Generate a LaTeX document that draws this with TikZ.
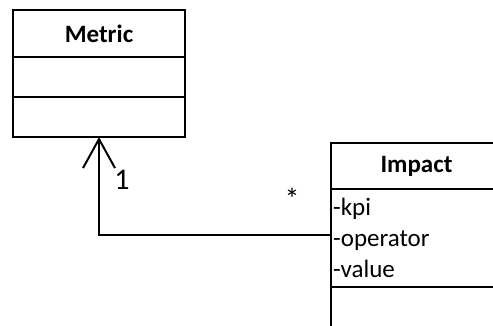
\documentclass[tikz,border=0pt]{standalone}
\usepackage{fontspec}
\setmainfont{Carlito}
\usetikzlibrary{arrows.meta}
\begin{document}
\begin{tikzpicture}[x=1pt,y=-1pt]
        \tikzstyle{part}=[draw=black,line width=2pt,inner sep=0pt,outer sep=0pt,minimum width=172pt]
        \tikzstyle{txt}=[inner sep=0pt,font=\fontsize{25}{30}\selectfont]
        \tikzstyle{attr}=[txt,anchor=base west]
        \clip (0,0) rectangle (493,326);

        \node (mhead)[part,minimum height=47pt,font=\bfseries\fontsize{25}{30}\selectfont] at (99,33.5) {Metric};
        \node (mattr)[part,minimum height=40pt,anchor=north] at (mhead.south) {};
        \node (mops)[part,minimum height=40pt,anchor=north] at (mattr.south) {};

        \node (ihead)[part,minimum width=171pt,minimum height=46pt,font=\bfseries\fontsize{25}{30}\selectfont] at (416.5,166) {Impact};
        \node (iattr)[part,minimum width=171pt,minimum height=98pt,anchor=north] at (ihead.south) {};
        \node (iops)[part,minimum width=171pt,minimum height=40pt,anchor=north] at (iattr.south) {};

        \node (kpi)[attr] at (333,215) {-kpi};
        \node (operator)[attr] at (333,246) {-operator};
        \node (value)[attr] at (333,277) {-value};

        \coordinate (bend) at (99,235);
        \draw[line width=1.4pt, -{Straight Barb[length=29pt,width=32pt,line width=2pt]}] (iattr.west |- bend) -- (bend) -- (mops.south);

        \node (one)[txt,font=\fontsize{30}{36}\selectfont] at (122,179.5) {1};
        \node (many)[txt,font=\fontsize{30}{36}\selectfont] at (292,198.5) {*};
    \end{tikzpicture}
\end{document}
